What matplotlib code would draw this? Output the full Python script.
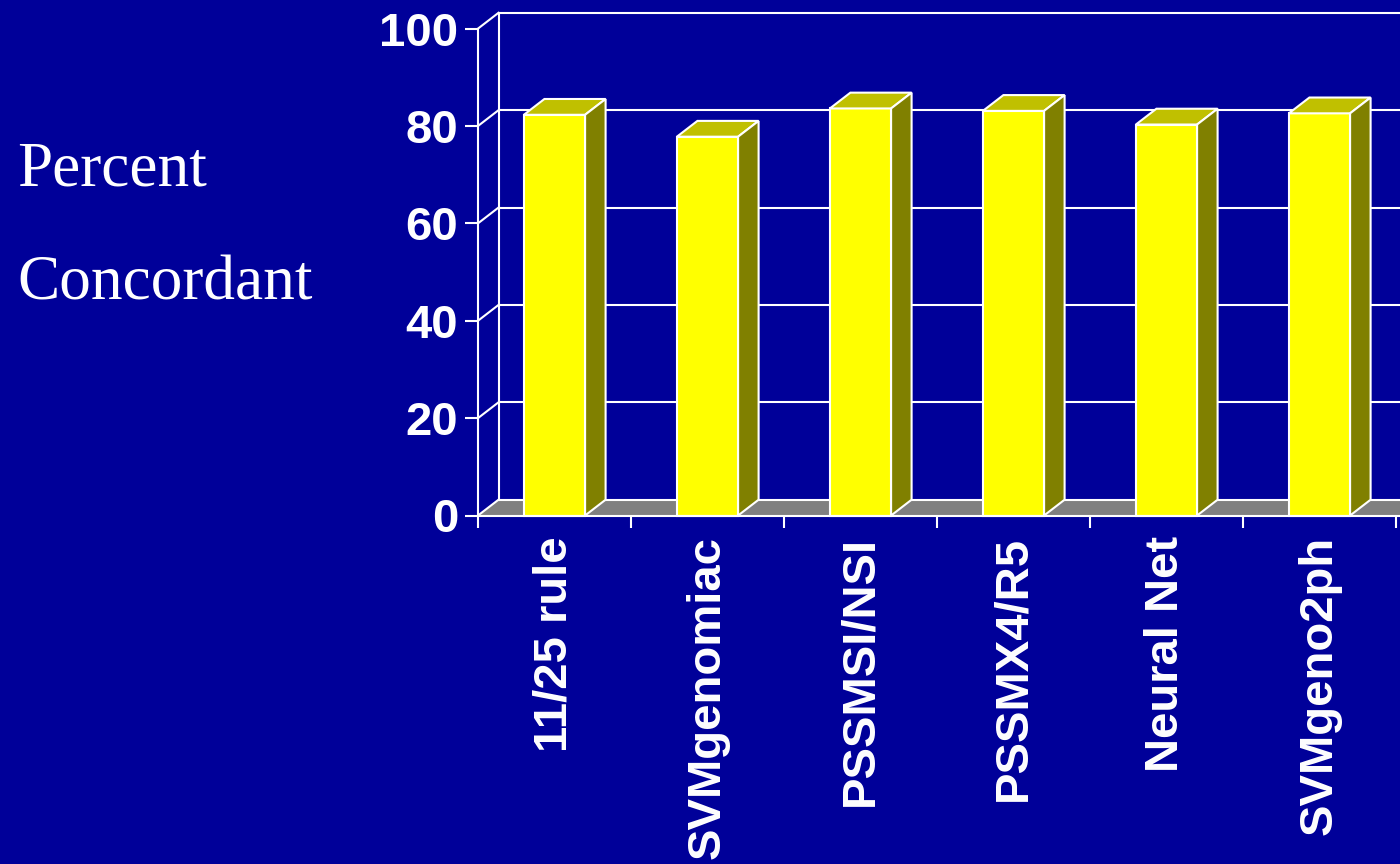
import numpy as np
import matplotlib.pyplot as plt
from matplotlib.patches import Polygon

# data
categories = ['11/25 rule', 'SVMgenomiac', 'PSSMSI/NSI', 'PSSMX4/R5',
              'Neural Net', 'SVMgeno2ph']
concordance = [82.3, 77.8, 83.6, 83.1, 80.3, 82.6]
y_ticks = [0, 20, 40, 60, 80, 100]

# colours (old powerpoint look)
BG = '#000099'
FRONT = '#ffff00'
TOP = '#c0c000'
SIDE = '#808000'
FLOOR = '#808080'
LINE = 'white'
LW = 1.5

W, H = 1400, 864
fig = plt.figure(figsize=(W / 100, H / 100), dpi=100, facecolor=BG)

# front plane of the plot, in pixels
left_px, bottom_px, right_px, top_px = 478, 515.5, 1400, 28.6
cat_px = 153
ax = fig.add_axes([left_px / W, (H - bottom_px) / H,
                   (right_px - left_px) / W, (bottom_px - top_px) / H])
ax.set_facecolor('none')

xmin = -0.5
xmax = xmin + (right_px - left_px) / cat_px
ax.set_xlim(xmin, xmax)
ax.set_ylim(0, 100)

# depth of the fake 3d, pixels -> data units
ddx = 20.5 * (xmax - xmin) / (right_px - left_px)
ddy = 15.8 * 100 / (bottom_px - top_px)
x_end = xmax + 1

# floor
floor = Polygon([(xmin, 0), (x_end, 0), (x_end + ddx, ddy), (xmin + ddx, ddy)],
                closed=True, facecolor=FLOOR, edgecolor='none',
                zorder=1, clip_on=False)
ax.add_patch(floor)

# back wall grid + left wall
for t in y_ticks:
    ax.plot([xmin + ddx, x_end], [t + ddy, t + ddy], color=LINE, lw=LW,
            zorder=1.5, clip_on=False, solid_capstyle='butt')
    ax.plot([xmin, xmin + ddx], [t, t + ddy], color=LINE, lw=LW,
            zorder=1.5, clip_on=False)
ax.plot([xmin + ddx, xmin + ddx], [ddy, 100 + ddy], color=LINE, lw=LW,
        zorder=1.5, clip_on=False)

# bars: front face, then top and side
x = np.arange(len(categories))
bw = 0.4
ax.bar(x, concordance, width=bw, color=FRONT, edgecolor=LINE, lw=LW,
       zorder=3, clip_on=False)
for xi, v in zip(x, concordance):
    l, r = xi - bw / 2, xi + bw / 2
    top = Polygon([(l, v), (r, v), (r + ddx, v + ddy), (l + ddx, v + ddy)],
                  closed=True, facecolor=TOP, edgecolor=LINE, lw=LW,
                  zorder=3, clip_on=False, joinstyle='miter')
    side = Polygon([(r, 0), (r + ddx, ddy), (r + ddx, v + ddy), (r, v)],
                   closed=True, facecolor=SIDE, edgecolor=LINE, lw=LW,
                   zorder=3, clip_on=False, joinstyle='miter')
    ax.add_patch(top)
    ax.add_patch(side)

# axes styling
for s in ['top', 'right']:
    ax.spines[s].set_visible(False)
for s in ['left', 'bottom']:
    ax.spines[s].set_color(LINE)
    ax.spines[s].set_linewidth(LW)
    ax.spines[s].set_zorder(4)

tick_font = dict(family='Liberation Sans', weight='bold', size=34)
ax.set_yticks(y_ticks)
ax.set_yticklabels([str(t) for t in y_ticks], fontdict=tick_font, color=LINE)
ax.tick_params(axis='y', length=9.4, width=LW, color=LINE, pad=5)

ax.set_xticks(x)
ax.set_xticklabels(categories, fontdict=tick_font, color=LINE, rotation=90)
ax.tick_params(axis='x', which='major', length=0, pad=15)
ax.set_xticks(np.arange(-0.5, len(categories) + 0.5), minor=True)
ax.tick_params(axis='x', which='minor', length=8.6, width=LW, color=LINE)

# y title as two lines of slide text
title_font = dict(family='Liberation Serif', size=45.5, color=LINE)
fig.text(17 / W, 1 - 186 / H, 'Percent', va='baseline', ha='left', **title_font)
fig.text(17 / W, 1 - 300 / H, 'Concordant', va='baseline', ha='left', **title_font)

fig.savefig('out.png', dpi=100, facecolor=BG)
